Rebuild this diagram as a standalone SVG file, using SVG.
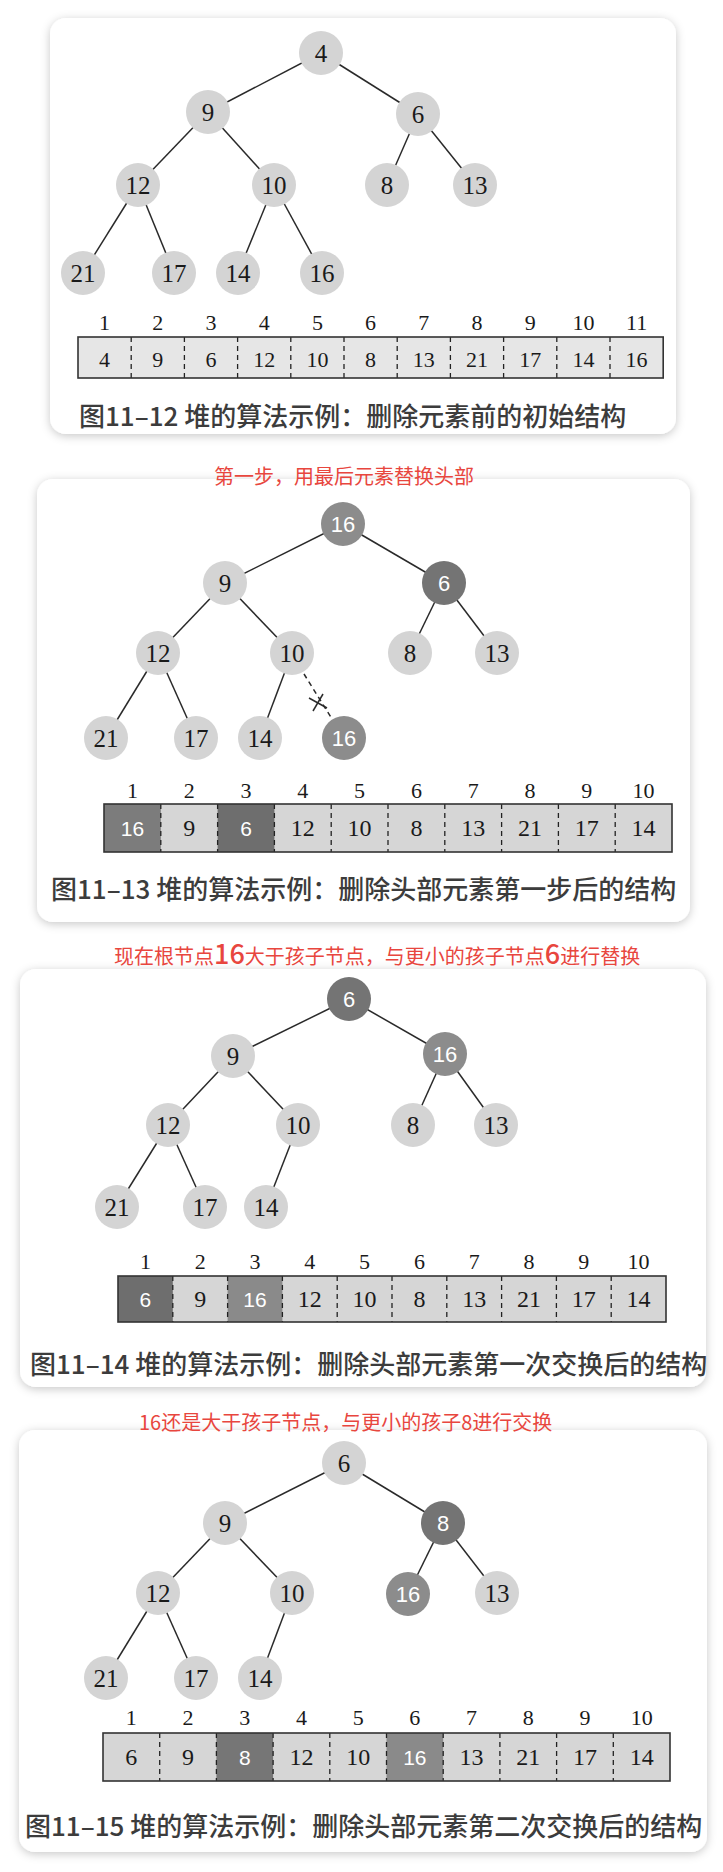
<svg xmlns="http://www.w3.org/2000/svg" width="723" height="1872" viewBox="0 0 723 1872">
<defs>
<filter id="sh" x="-10%" y="-10%" width="120%" height="120%">
<feDropShadow dx="0" dy="2" stdDeviation="5" flood-color="#000" flood-opacity="0.22"/>
</filter>
<style>
.card{fill:#fff;filter:url(#sh)}
.n{fill:#d4d4d4}
.nd{fill:#747474}
.nm{fill:#8c8c8c}
.t{font-family:"Liberation Serif",serif;font-size:25px;fill:#1a1a1a;text-anchor:middle}
.tw{font-family:"Liberation Sans",sans-serif;font-size:22px;fill:#fff;text-anchor:middle}
.e{stroke:#2a2a2a;stroke-width:1.5}
.ed{stroke:#2a2a2a;stroke-width:1.5;stroke-dasharray:5 4}
.idx{font-family:"Liberation Serif",serif;font-size:22px;fill:#1a1a1a;text-anchor:middle}
.ct{font-family:"Liberation Serif",serif;font-size:24px;fill:#1a1a1a;text-anchor:middle}
#p1-array .ct{font-size:22px}
.cw{font-family:"Liberation Sans",sans-serif;font-size:21px;fill:#fff;text-anchor:middle}
.dv{stroke:#222;stroke-width:1.3;stroke-dasharray:5 4}
.arr{fill:none;stroke:#333;stroke-width:1.6}
.cap{font-family:"Noto Sans CJK SC",sans-serif;font-size:26px;fill:#3c3c3c;font-weight:500}
.red{font-family:"Noto Sans CJK SC",sans-serif;font-size:20px;fill:#e8463e}
.big{font-family:"Noto Sans CJK SC",sans-serif;font-size:27px;font-weight:500}
</style>
</defs>
<rect width="723" height="1872" fill="#fff"/>

<!-- ===== Panel 1 ===== -->
<g id="panel1">
<rect class="card" x="50" y="18" width="626" height="416" rx="16"/>
<g id="p1-connectors">
<line class="e" x1="321" y1="53" x2="208" y2="112"/>
<line class="e" x1="321" y1="53" x2="418" y2="114"/>
<line class="e" x1="208" y1="112" x2="138" y2="185"/>
<line class="e" x1="208" y1="112" x2="274" y2="185"/>
<line class="e" x1="418" y1="114" x2="387" y2="185"/>
<line class="e" x1="418" y1="114" x2="475" y2="185"/>
<line class="e" x1="138" y1="185" x2="83" y2="273"/>
<line class="e" x1="138" y1="185" x2="174" y2="273"/>
<line class="e" x1="274" y1="185" x2="238" y2="273"/>
<line class="e" x1="274" y1="185" x2="322" y2="273"/>
</g>
<g id="p1-n4"><circle class="n" cx="321" cy="53" r="22"/><text class="t" x="321" y="61.5">4</text></g>
<g id="p1-n9"><circle class="n" cx="208" cy="112" r="22"/><text class="t" x="208" y="120.5">9</text></g>
<g id="p1-n6"><circle class="n" cx="418" cy="114" r="22"/><text class="t" x="418" y="122.5">6</text></g>
<g id="p1-n12"><circle class="n" cx="138" cy="185" r="22"/><text class="t" x="138" y="193.5">12</text></g>
<g id="p1-n10"><circle class="n" cx="274" cy="185" r="22"/><text class="t" x="274" y="193.5">10</text></g>
<g id="p1-n8"><circle class="n" cx="387" cy="185" r="22"/><text class="t" x="387" y="193.5">8</text></g>
<g id="p1-n13"><circle class="n" cx="475" cy="185" r="22"/><text class="t" x="475" y="193.5">13</text></g>
<g id="p1-n21"><circle class="n" cx="83" cy="273" r="22"/><text class="t" x="83" y="281.5">21</text></g>
<g id="p1-n17"><circle class="n" cx="174" cy="273" r="22"/><text class="t" x="174" y="281.5">17</text></g>
<g id="p1-n14"><circle class="n" cx="238" cy="273" r="22"/><text class="t" x="238" y="281.5">14</text></g>
<g id="p1-n16"><circle class="n" cx="322" cy="273" r="22"/><text class="t" x="322" y="281.5">16</text></g>
<g id="p1-array">
<rect x="78" y="337" width="585.2" height="41" fill="#e6e6e6"/>
<line class="dv" x1="131.2" y1="337" x2="131.2" y2="378"/>
<line class="dv" x1="184.4" y1="337" x2="184.4" y2="378"/>
<line class="dv" x1="237.6" y1="337" x2="237.6" y2="378"/>
<line class="dv" x1="290.8" y1="337" x2="290.8" y2="378"/>
<line class="dv" x1="344" y1="337" x2="344" y2="378"/>
<line class="dv" x1="397.2" y1="337" x2="397.2" y2="378"/>
<line class="dv" x1="450.4" y1="337" x2="450.4" y2="378"/>
<line class="dv" x1="503.6" y1="337" x2="503.6" y2="378"/>
<line class="dv" x1="556.8" y1="337" x2="556.8" y2="378"/>
<line class="dv" x1="610" y1="337" x2="610" y2="378"/>
<rect class="arr" x="78" y="337" width="585.2" height="41"/>
<text class="idx" x="104.6" y="330">1</text><text class="idx" x="157.8" y="330">2</text><text class="idx" x="211" y="330">3</text><text class="idx" x="264.2" y="330">4</text><text class="idx" x="317.4" y="330">5</text><text class="idx" x="370.6" y="330">6</text><text class="idx" x="423.8" y="330">7</text><text class="idx" x="477" y="330">8</text><text class="idx" x="530.2" y="330">9</text><text class="idx" x="583.4" y="330">10</text><text class="idx" x="636.6" y="330">11</text>
<text class="ct" x="104.6" y="367">4</text><text class="ct" x="157.8" y="367">9</text><text class="ct" x="211" y="367">6</text><text class="ct" x="264.2" y="367">12</text><text class="ct" x="317.4" y="367">10</text><text class="ct" x="370.6" y="367">8</text><text class="ct" x="423.8" y="367">13</text><text class="ct" x="477" y="367">21</text><text class="ct" x="530.2" y="367">17</text><text class="ct" x="583.4" y="367">14</text><text class="ct" x="636.6" y="367">16</text>
</g>
<text class="cap" x="79" y="426">图11–12 堆的算法示例：删除元素前的初始结构</text>
</g>

<!-- ===== Panel 2 ===== -->
<g id="panel2">
<rect class="card" x="37" y="479" width="653" height="443" rx="16"/>
<text class="red" x="214" y="484">第一步，用最后元素替换头部</text>
<g id="p2-connectors">
<line class="e" x1="343" y1="524" x2="225" y2="583"/>
<line class="e" x1="343" y1="524" x2="444" y2="583"/>
<line class="e" x1="225" y1="583" x2="158" y2="653"/>
<line class="e" x1="225" y1="583" x2="292" y2="653"/>
<line class="e" x1="444" y1="583" x2="410" y2="653"/>
<line class="e" x1="444" y1="583" x2="497" y2="653"/>
<line class="e" x1="158" y1="653" x2="106" y2="738"/>
<line class="e" x1="158" y1="653" x2="196" y2="738"/>
<line class="e" x1="292" y1="653" x2="260" y2="738"/>
<line class="ed" x1="304" y1="674" x2="332" y2="719"/>
<line class="e" x1="323" y1="694" x2="313" y2="711"/>
<line class="e" x1="309" y1="698" x2="327" y2="708"/>
</g>
<g id="p2-n16r"><circle class="nm" cx="343" cy="524" r="22"/><text class="tw" x="343" y="532">16</text></g>
<g id="p2-n9"><circle class="n" cx="225" cy="583" r="22"/><text class="t" x="225" y="591.5">9</text></g>
<g id="p2-n6"><circle class="nd" cx="444" cy="583" r="22"/><text class="tw" x="444" y="591">6</text></g>
<g id="p2-n12"><circle class="n" cx="158" cy="653" r="22"/><text class="t" x="158" y="661.5">12</text></g>
<g id="p2-n10"><circle class="n" cx="292" cy="653" r="22"/><text class="t" x="292" y="661.5">10</text></g>
<g id="p2-n8"><circle class="n" cx="410" cy="653" r="22"/><text class="t" x="410" y="661.5">8</text></g>
<g id="p2-n13"><circle class="n" cx="497" cy="653" r="22"/><text class="t" x="497" y="661.5">13</text></g>
<g id="p2-n21"><circle class="n" cx="106" cy="738" r="22"/><text class="t" x="106" y="746.5">21</text></g>
<g id="p2-n17"><circle class="n" cx="196" cy="738" r="22"/><text class="t" x="196" y="746.5">17</text></g>
<g id="p2-n14"><circle class="n" cx="260" cy="738" r="22"/><text class="t" x="260" y="746.5">14</text></g>
<g id="p2-n16"><circle class="nm" cx="344" cy="738" r="22"/><text class="tw" x="344" y="746">16</text></g>
<g id="p2-array">
<rect x="104" y="804" width="568" height="48" fill="#d6d6d6"/>
<rect x="104" y="804" width="56.8" height="48" fill="#7c7c7c"/>
<rect x="217.6" y="804" width="56.8" height="48" fill="#6e6e6e"/>
<line class="dv" x1="160.8" y1="804" x2="160.8" y2="852"/>
<line class="dv" x1="217.6" y1="804" x2="217.6" y2="852"/>
<line class="dv" x1="274.4" y1="804" x2="274.4" y2="852"/>
<line class="dv" x1="331.2" y1="804" x2="331.2" y2="852"/>
<line class="dv" x1="388" y1="804" x2="388" y2="852"/>
<line class="dv" x1="444.8" y1="804" x2="444.8" y2="852"/>
<line class="dv" x1="501.6" y1="804" x2="501.6" y2="852"/>
<line class="dv" x1="558.4" y1="804" x2="558.4" y2="852"/>
<line class="dv" x1="615.2" y1="804" x2="615.2" y2="852"/>
<rect class="arr" x="104" y="804" width="568" height="48"/>
<text class="idx" x="132.4" y="798">1</text><text class="idx" x="189.2" y="798">2</text><text class="idx" x="246" y="798">3</text><text class="idx" x="302.8" y="798">4</text><text class="idx" x="359.6" y="798">5</text><text class="idx" x="416.4" y="798">6</text><text class="idx" x="473.2" y="798">7</text><text class="idx" x="530" y="798">8</text><text class="idx" x="586.8" y="798">9</text><text class="idx" x="643.6" y="798">10</text>
<text class="cw" x="132.4" y="836">16</text><text class="ct" x="189.2" y="836">9</text><text class="cw" x="246" y="836">6</text><text class="ct" x="302.8" y="836">12</text><text class="ct" x="359.6" y="836">10</text><text class="ct" x="416.4" y="836">8</text><text class="ct" x="473.2" y="836">13</text><text class="ct" x="530" y="836">21</text><text class="ct" x="586.8" y="836">17</text><text class="ct" x="643.6" y="836">14</text>
</g>
<text class="cap" x="51" y="899">图11–13 堆的算法示例：删除头部元素第一步后的结构</text>
</g>

<!-- ===== Panel 3 ===== -->
<g id="panel3">
<rect class="card" x="20" y="969" width="686" height="418" rx="16"/>
<text class="red" x="114" y="964">现在根节点<tspan class="big">16</tspan>大于孩子节点，与更小的孩子节点<tspan class="big">6</tspan>进行替换</text>
<g id="p3-connectors">
<line class="e" x1="349" y1="999" x2="233" y2="1056"/>
<line class="e" x1="349" y1="999" x2="445" y2="1054"/>
<line class="e" x1="233" y1="1056" x2="168" y2="1125"/>
<line class="e" x1="233" y1="1056" x2="298" y2="1125"/>
<line class="e" x1="445" y1="1054" x2="413" y2="1125"/>
<line class="e" x1="445" y1="1054" x2="496" y2="1125"/>
<line class="e" x1="168" y1="1125" x2="117" y2="1207"/>
<line class="e" x1="168" y1="1125" x2="205" y2="1207"/>
<line class="e" x1="298" y1="1125" x2="266" y2="1207"/>
</g>
<g id="p3-n6"><circle class="nd" cx="349" cy="999" r="22"/><text class="tw" x="349" y="1007">6</text></g>
<g id="p3-n9"><circle class="n" cx="233" cy="1056" r="22"/><text class="t" x="233" y="1064.5">9</text></g>
<g id="p3-n16"><circle class="nm" cx="445" cy="1054" r="22"/><text class="tw" x="445" y="1062">16</text></g>
<g id="p3-n12"><circle class="n" cx="168" cy="1125" r="22"/><text class="t" x="168" y="1133.5">12</text></g>
<g id="p3-n10"><circle class="n" cx="298" cy="1125" r="22"/><text class="t" x="298" y="1133.5">10</text></g>
<g id="p3-n8"><circle class="n" cx="413" cy="1125" r="22"/><text class="t" x="413" y="1133.5">8</text></g>
<g id="p3-n13"><circle class="n" cx="496" cy="1125" r="22"/><text class="t" x="496" y="1133.5">13</text></g>
<g id="p3-n21"><circle class="n" cx="117" cy="1207" r="22"/><text class="t" x="117" y="1215.5">21</text></g>
<g id="p3-n17"><circle class="n" cx="205" cy="1207" r="22"/><text class="t" x="205" y="1215.5">17</text></g>
<g id="p3-n14"><circle class="n" cx="266" cy="1207" r="22"/><text class="t" x="266" y="1215.5">14</text></g>
<g id="p3-array">
<rect x="118" y="1276" width="548" height="46" fill="#d6d6d6"/>
<rect x="118" y="1276" width="54.8" height="46" fill="#6e6e6e"/>
<rect x="227.6" y="1276" width="54.8" height="46" fill="#8a8a8a"/>
<line class="dv" x1="172.8" y1="1276" x2="172.8" y2="1322"/>
<line class="dv" x1="227.6" y1="1276" x2="227.6" y2="1322"/>
<line class="dv" x1="282.4" y1="1276" x2="282.4" y2="1322"/>
<line class="dv" x1="337.2" y1="1276" x2="337.2" y2="1322"/>
<line class="dv" x1="392" y1="1276" x2="392" y2="1322"/>
<line class="dv" x1="446.8" y1="1276" x2="446.8" y2="1322"/>
<line class="dv" x1="501.6" y1="1276" x2="501.6" y2="1322"/>
<line class="dv" x1="556.4" y1="1276" x2="556.4" y2="1322"/>
<line class="dv" x1="611.2" y1="1276" x2="611.2" y2="1322"/>
<rect class="arr" x="118" y="1276" width="548" height="46"/>
<text class="idx" x="145.4" y="1269">1</text><text class="idx" x="200.2" y="1269">2</text><text class="idx" x="255" y="1269">3</text><text class="idx" x="309.8" y="1269">4</text><text class="idx" x="364.6" y="1269">5</text><text class="idx" x="419.4" y="1269">6</text><text class="idx" x="474.2" y="1269">7</text><text class="idx" x="529" y="1269">8</text><text class="idx" x="583.8" y="1269">9</text><text class="idx" x="638.6" y="1269">10</text>
<text class="cw" x="145.4" y="1307">6</text><text class="ct" x="200.2" y="1307">9</text><text class="cw" x="255" y="1307">16</text><text class="ct" x="309.8" y="1307">12</text><text class="ct" x="364.6" y="1307">10</text><text class="ct" x="419.4" y="1307">8</text><text class="ct" x="474.2" y="1307">13</text><text class="ct" x="529" y="1307">21</text><text class="ct" x="583.8" y="1307">17</text><text class="ct" x="638.6" y="1307">14</text>
</g>
<text class="cap" x="30" y="1374">图11–14 堆的算法示例：删除头部元素第一次交换后的结构</text>
</g>

<!-- ===== Panel 4 ===== -->
<g id="panel4">
<rect class="card" x="19" y="1430" width="688" height="422" rx="16"/>
<text class="red" x="139" y="1430">16还是大于孩子节点，与更小的孩子8进行交换</text>
<g id="p4-connectors">
<line class="e" x1="344" y1="1463" x2="225" y2="1523"/>
<line class="e" x1="344" y1="1463" x2="443" y2="1523"/>
<line class="e" x1="225" y1="1523" x2="158" y2="1593"/>
<line class="e" x1="225" y1="1523" x2="292" y2="1593"/>
<line class="e" x1="443" y1="1523" x2="408" y2="1594"/>
<line class="e" x1="443" y1="1523" x2="497" y2="1593"/>
<line class="e" x1="158" y1="1593" x2="106" y2="1678"/>
<line class="e" x1="158" y1="1593" x2="196" y2="1678"/>
<line class="e" x1="292" y1="1593" x2="260" y2="1678"/>
</g>
<g id="p4-n6"><circle class="n" cx="344" cy="1463" r="22"/><text class="t" x="344" y="1471.5">6</text></g>
<g id="p4-n9"><circle class="n" cx="225" cy="1523" r="22"/><text class="t" x="225" y="1531.5">9</text></g>
<g id="p4-n8"><circle class="nd" cx="443" cy="1523" r="22"/><text class="tw" x="443" y="1531">8</text></g>
<g id="p4-n12"><circle class="n" cx="158" cy="1593" r="22"/><text class="t" x="158" y="1601.5">12</text></g>
<g id="p4-n10"><circle class="n" cx="292" cy="1593" r="22"/><text class="t" x="292" y="1601.5">10</text></g>
<g id="p4-n16"><circle class="nm" cx="408" cy="1594" r="22"/><text class="tw" x="408" y="1602">16</text></g>
<g id="p4-n13"><circle class="n" cx="497" cy="1593" r="22"/><text class="t" x="497" y="1601.5">13</text></g>
<g id="p4-n21"><circle class="n" cx="106" cy="1678" r="22"/><text class="t" x="106" y="1686.5">21</text></g>
<g id="p4-n17"><circle class="n" cx="196" cy="1678" r="22"/><text class="t" x="196" y="1686.5">17</text></g>
<g id="p4-n14"><circle class="n" cx="260" cy="1678" r="22"/><text class="t" x="260" y="1686.5">14</text></g>
<g id="p4-array">
<rect x="103" y="1733" width="567" height="48" fill="#d6d6d6"/>
<rect x="216.4" y="1733" width="56.7" height="48" fill="#767676"/>
<rect x="386.5" y="1733" width="56.7" height="48" fill="#8a8a8a"/>
<line class="dv" x1="159.7" y1="1733" x2="159.7" y2="1781"/>
<line class="dv" x1="216.4" y1="1733" x2="216.4" y2="1781"/>
<line class="dv" x1="273.1" y1="1733" x2="273.1" y2="1781"/>
<line class="dv" x1="329.8" y1="1733" x2="329.8" y2="1781"/>
<line class="dv" x1="386.5" y1="1733" x2="386.5" y2="1781"/>
<line class="dv" x1="443.2" y1="1733" x2="443.2" y2="1781"/>
<line class="dv" x1="499.9" y1="1733" x2="499.9" y2="1781"/>
<line class="dv" x1="556.6" y1="1733" x2="556.6" y2="1781"/>
<line class="dv" x1="613.3" y1="1733" x2="613.3" y2="1781"/>
<rect class="arr" x="103" y="1733" width="567" height="48"/>
<text class="idx" x="131.35" y="1725">1</text><text class="idx" x="188.05" y="1725">2</text><text class="idx" x="244.75" y="1725">3</text><text class="idx" x="301.45" y="1725">4</text><text class="idx" x="358.15" y="1725">5</text><text class="idx" x="414.85" y="1725">6</text><text class="idx" x="471.55" y="1725">7</text><text class="idx" x="528.25" y="1725">8</text><text class="idx" x="584.95" y="1725">9</text><text class="idx" x="641.65" y="1725">10</text>
<text class="ct" x="131.35" y="1765">6</text><text class="ct" x="188.05" y="1765">9</text><text class="cw" x="244.75" y="1765">8</text><text class="ct" x="301.45" y="1765">12</text><text class="ct" x="358.15" y="1765">10</text><text class="cw" x="414.85" y="1765">16</text><text class="ct" x="471.55" y="1765">13</text><text class="ct" x="528.25" y="1765">21</text><text class="ct" x="584.95" y="1765">17</text><text class="ct" x="641.65" y="1765">14</text>
</g>
<text class="cap" x="25" y="1836">图11–15 堆的算法示例：删除头部元素第二次交换后的结构</text>
</g>
</svg>
